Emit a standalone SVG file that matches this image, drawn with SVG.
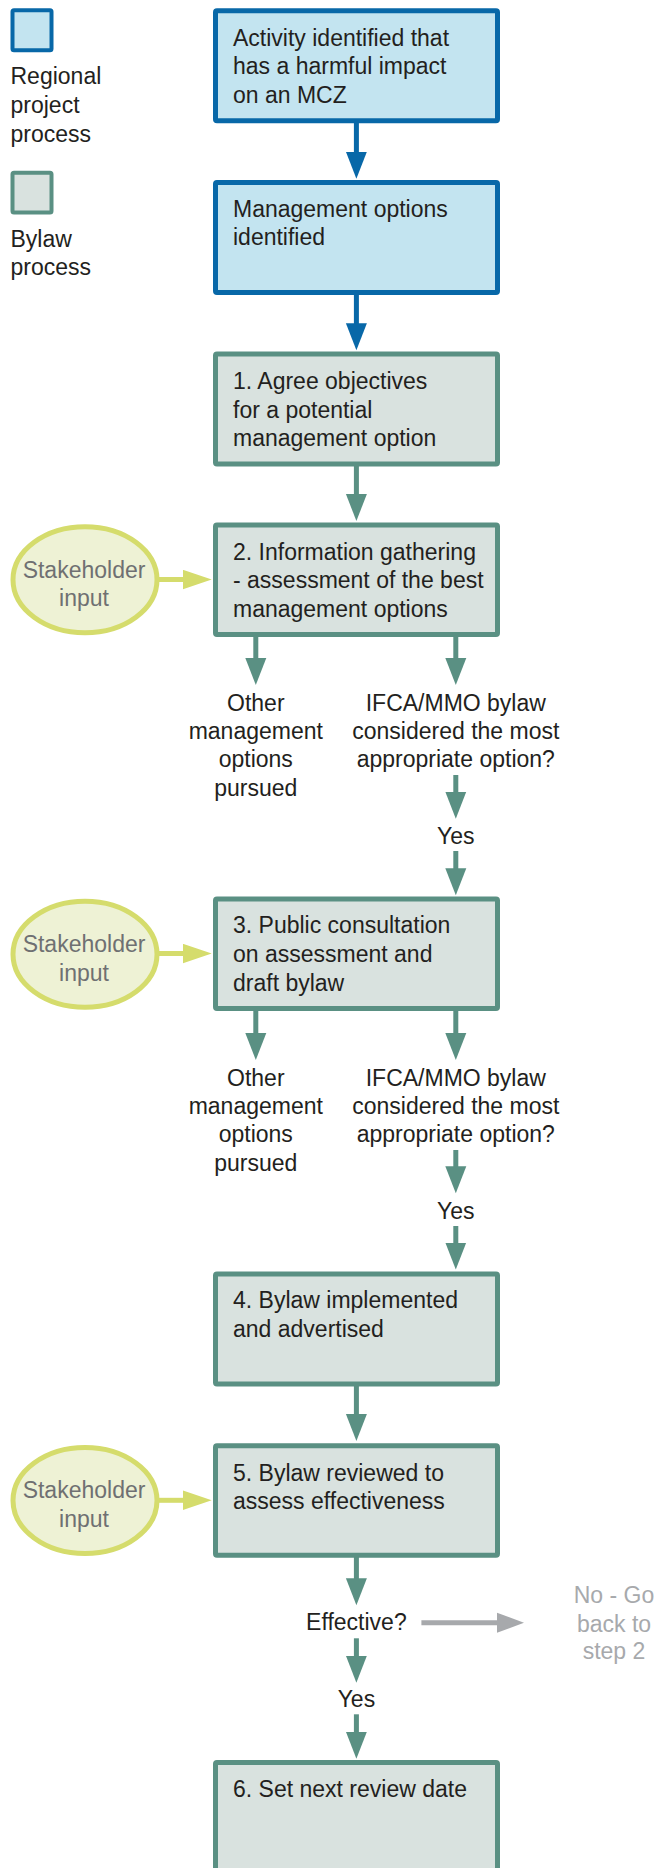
<svg xmlns="http://www.w3.org/2000/svg" width="654" height="1868" viewBox="0 0 654 1868">
<style>
text{font-family:"Liberation Sans",Arial,sans-serif;font-size:23px;fill:#231f20}
.reg{fill:#c3e4f0;stroke:#0868a8;stroke-width:5}
.byl{fill:#d9e2df;stroke:#5a9083;stroke-width:5}
.stk{fill:#eef2d5;stroke:#d5dc6c;stroke-width:5}
.st{fill:#6f7072;text-anchor:middle}
.mid{text-anchor:middle}
.gray{fill:#a7a9ac;text-anchor:middle}
.cb{stroke:#0868a8;stroke-width:5;fill:none}
.ct{stroke:#5a9083;stroke-width:5;fill:none}
.cy{stroke:#d5dc6c;stroke-width:5;fill:none}
.cg{stroke:#a7a9ac;stroke-width:5;fill:none}
</style>
<defs>
<marker id="hb" markerUnits="userSpaceOnUse" markerWidth="28" markerHeight="22" refX="1" refY="10.5" orient="auto" viewBox="0 0 28 21"><path d="M0,0 L27,10.5 L0,21 z" fill="#0868a8"/></marker>
<marker id="ht" markerUnits="userSpaceOnUse" markerWidth="28" markerHeight="22" refX="1" refY="10.5" orient="auto" viewBox="0 0 28 21"><path d="M0,0 L27,10.5 L0,21 z" fill="#5a9083"/></marker>
<marker id="hy" markerUnits="userSpaceOnUse" markerWidth="29" markerHeight="20" refX="1" refY="9.7" orient="auto" viewBox="0 0 29 19.4"><path d="M0,0 L28.7,9.7 L0,19.4 z" fill="#d5dc6c"/></marker>
<marker id="hg" markerUnits="userSpaceOnUse" markerWidth="28" markerHeight="21" refX="1" refY="10" orient="auto" viewBox="0 0 28 20"><path d="M0,0 L27,10 L0,20 z" fill="#a7a9ac"/></marker>
</defs>

<g id="legend">
<rect class="reg" x="12.5" y="10.3" width="39" height="40" rx="1.5" style="stroke-width:4"/>
<text x="10.5" y="84">Regional</text>
<text x="10.5" y="113">project</text>
<text x="10.5" y="141.5">process</text>
<rect class="byl" x="12.5" y="172.7" width="39" height="39.7" rx="1.5" style="stroke-width:4"/>
<text x="10.5" y="246.5">Bylaw</text>
<text x="10.5" y="275">process</text>
</g>

<g id="connectors">
<line class="cb" x1="356.4" y1="122" x2="356.4" y2="152.7" marker-end="url(#hb)"/>
<line class="cb" x1="356.4" y1="294" x2="356.4" y2="324.3" marker-end="url(#hb)"/>
<line class="ct" x1="356.4" y1="465" x2="356.4" y2="495" marker-end="url(#ht)"/>
<line class="ct" x1="255.8" y1="636" x2="255.8" y2="659" marker-end="url(#ht)"/>
<line class="ct" x1="455.8" y1="636" x2="455.8" y2="659" marker-end="url(#ht)"/>
<line class="ct" x1="455.8" y1="775" x2="455.8" y2="792.7" marker-end="url(#ht)"/>
<line class="ct" x1="455.8" y1="851" x2="455.8" y2="869.3" marker-end="url(#ht)"/>
<line class="ct" x1="255.8" y1="1010" x2="255.8" y2="1034" marker-end="url(#ht)"/>
<line class="ct" x1="455.8" y1="1010" x2="455.8" y2="1034" marker-end="url(#ht)"/>
<line class="ct" x1="455.8" y1="1150" x2="455.8" y2="1167.3" marker-end="url(#ht)"/>
<line class="ct" x1="455.8" y1="1226" x2="455.8" y2="1243.5" marker-end="url(#ht)"/>
<line class="ct" x1="356.4" y1="1385" x2="356.4" y2="1415" marker-end="url(#ht)"/>
<line class="ct" x1="356.4" y1="1557" x2="356.4" y2="1579.3" marker-end="url(#ht)"/>
<line class="ct" x1="356.4" y1="1638.3" x2="356.4" y2="1656.7" marker-end="url(#ht)"/>
<line class="ct" x1="356.4" y1="1714.3" x2="356.4" y2="1732.7" marker-end="url(#ht)"/>
<line class="cy" x1="159" y1="579.5" x2="184" y2="579.5" marker-end="url(#hy)"/>
<line class="cy" x1="159" y1="953.5" x2="184" y2="953.5" marker-end="url(#hy)"/>
<line class="cy" x1="159" y1="1500.3" x2="184" y2="1500.3" marker-end="url(#hy)"/>
<line class="cg" x1="421.4" y1="1622.7" x2="498" y2="1622.7" marker-end="url(#hg)"/>
</g>

<g id="node-activity">
<rect class="reg" x="215.5" y="10.8" width="282" height="110" rx="1.5"/>
<text x="233" y="45.7">Activity identified that</text>
<text x="233" y="74">has a harmful impact</text>
<text x="233" y="102.7">on an MCZ</text>
</g>

<g id="node-options">
<rect class="reg" x="215.5" y="182.5" width="282" height="110" rx="1.5"/>
<text x="233" y="216.7">Management options</text>
<text x="233" y="245">identified</text>
</g>

<g id="node-step1">
<rect class="byl" x="215.5" y="354" width="282" height="110" rx="1.5"/>
<text x="233" y="389.3">1. Agree objectives</text>
<text x="233" y="417.5">for a potential</text>
<text x="233" y="445.5">management option</text>
</g>

<g id="node-step2">
<rect class="byl" x="215.5" y="525" width="282" height="109.5" rx="1.5"/>
<text x="233" y="560">2. Information gathering</text>
<text x="233" y="588.3">- assessment of the best</text>
<text x="233" y="616.7">management options</text>
</g>

<g id="node-stake1">
<ellipse class="stk" cx="85" cy="579.7" rx="72" ry="53"/>
<text class="st" x="84" y="578.3">Stakeholder</text>
<text class="st" x="84" y="606">input</text>
</g>

<g id="node-other1">
<text class="mid" x="255.8" y="710.7">Other</text>
<text class="mid" x="255.8" y="739">management</text>
<text class="mid" x="255.8" y="767.3">options</text>
<text class="mid" x="255.8" y="795.5">pursued</text>
</g>

<g id="node-ifca1">
<text class="mid" x="455.8" y="710.7">IFCA/MMO bylaw</text>
<text class="mid" x="455.8" y="739">considered the most</text>
<text class="mid" x="455.8" y="767.3">appropriate option?</text>
</g>

<g id="node-yes1">
<text class="mid" x="455.8" y="844">Yes</text>
</g>

<g id="node-step3">
<rect class="byl" x="215.5" y="899" width="282" height="109.5" rx="1.5"/>
<text x="233" y="933.3">3. Public consultation</text>
<text x="233" y="961.7">on assessment and</text>
<text x="233" y="990.5">draft bylaw</text>
</g>

<g id="node-stake2">
<ellipse class="stk" cx="85" cy="954.2" rx="72" ry="53"/>
<text class="st" x="84" y="951.7">Stakeholder</text>
<text class="st" x="84" y="980.5">input</text>
</g>

<g id="node-other2">
<text class="mid" x="255.8" y="1085.7">Other</text>
<text class="mid" x="255.8" y="1114">management</text>
<text class="mid" x="255.8" y="1142.3">options</text>
<text class="mid" x="255.8" y="1170.7">pursued</text>
</g>

<g id="node-ifca2">
<text class="mid" x="455.8" y="1085.7">IFCA/MMO bylaw</text>
<text class="mid" x="455.8" y="1114">considered the most</text>
<text class="mid" x="455.8" y="1142.3">appropriate option?</text>
</g>

<g id="node-yes2">
<text class="mid" x="455.8" y="1219">Yes</text>
</g>

<g id="node-step4">
<rect class="byl" x="215.5" y="1274" width="282" height="110" rx="1.5"/>
<text x="233" y="1308.3">4. Bylaw implemented</text>
<text x="233" y="1336.7">and advertised</text>
</g>

<g id="node-step5">
<rect class="byl" x="215.5" y="1445.8" width="282" height="109.5" rx="1.5"/>
<text x="233" y="1480.7">5. Bylaw reviewed to</text>
<text x="233" y="1509">assess effectiveness</text>
</g>

<g id="node-stake3">
<ellipse class="stk" cx="85" cy="1500.5" rx="72" ry="53"/>
<text class="st" x="84" y="1498.3">Stakeholder</text>
<text class="st" x="84" y="1527.3">input</text>
</g>

<g id="node-effective">
<text class="mid" x="356.4" y="1630">Effective?</text>
</g>

<g id="node-nogo">
<text class="gray" x="614" y="1603.3">No - Go</text>
<text class="gray" x="614" y="1631.7">back to</text>
<text class="gray" x="614" y="1659.3">step 2</text>
</g>

<g id="node-yes3">
<text class="mid" x="356.4" y="1707.3">Yes</text>
</g>

<g id="node-step6">
<rect class="byl" x="215.5" y="1762.5" width="282" height="150" rx="1.5"/>
<text x="233" y="1796.7">6. Set next review date</text>
</g>
</svg>
